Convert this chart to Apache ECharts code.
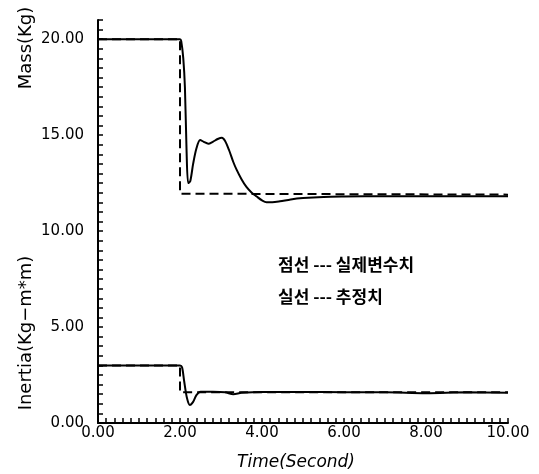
<!DOCTYPE html>
<html><head><meta charset="utf-8">
<script src="https://cdn.jsdelivr.net/npm/echarts@6/dist/echarts.min.js"></script>
<style>html,body{margin:0;padding:0;background:#fff}#c{width:539px;height:474px}</style>
</head><body><div id="c"></div>
<script>
// Mass estimate (solid)
const massEstT = [0,2.0,2.03,2.08,2.12,2.16,2.2,2.25,2.32,2.4,2.49,2.58,2.69,2.8,2.92,3.02,3.1,3.2,3.3,3.38,3.5,3.62,3.75,3.87,4.0,4.11,4.25,4.44,4.7,5.0,5.5,6,7,8,9,10];
const massEstV = [20,20,19.9,19.0,17.5,14.2,12.5,12.6,13.5,14.3,14.75,14.65,14.55,14.65,14.8,14.87,14.7,14.2,13.6,13.2,12.7,12.3,12.0,11.8,11.6,11.5,11.5,11.55,11.65,11.72,11.78,11.8,11.82,11.82,11.82,11.82];
// Mass actual (dashed)
const massActT = [0,2.0,2.0,10];
const massActV = [20,20,11.95,11.9];
// Inertia estimate (solid)
const inerEstT = [0,2.0,2.05,2.1,2.17,2.24,2.32,2.4,2.5,2.8,3.1,3.3,3.5,4.0,5,6,7,8,9,10];
const inerEstV = [3.0,3.0,2.9,2.2,1.3,0.94,1.1,1.45,1.63,1.63,1.6,1.5,1.57,1.62,1.62,1.6,1.6,1.55,1.6,1.58];
// Inertia actual (dashed)
const inerActT = [0,2.0,2.0,10];
const inerActV = [3.0,3.0,1.6,1.6];

const legendLines = ['점선 --- 실제변수치', '실선 --- 추정치'];

const zip = (t, v) => t.map((x, i) => [x, v[i]]);
const near = (v, m) => Math.abs(v / m - Math.round(v / m)) < 1e-6;

const chart = echarts.init(document.getElementById('c'));
const lbl = {color:'#000', fontFamily:'DejaVu Sans', fontSize:15};
chart.setOption({
  animation:false,
  grid:{left:98, right:31, top:20, bottom:51},
  xAxis:{type:'value', min:0, max:10, interval:0.2,
    axisLine:{onZero:false, lineStyle:{color:'#000', width:2}},
    axisTick:{inside:true, length:5, lineStyle:{color:'#000', width:1.5}},
    axisLabel:Object.assign({margin:3, formatter:v => near(v,2) ? v.toFixed(2) : ''}, lbl),
    splitLine:{show:false}},
  yAxis:{type:'value', min:0, max:21, interval:0.5,
    axisLine:{show:true, onZero:false, lineStyle:{color:'#000', width:2}},
    axisTick:{show:true, inside:true, length:5, lineStyle:{color:'#000', width:1.5}},
    axisLabel:Object.assign({margin:14, formatter:v => near(v,5) ? v.toFixed(2) : ''}, lbl),
    splitLine:{show:false}},
  series:[
    {type:'line', data:zip(massActT, massActV), symbol:'none', lineStyle:{color:'#000', width:2, type:[9,5]}},
    {type:'line', data:zip(massEstT, massEstV), symbol:'none', smooth:0.3, lineStyle:{color:'#000', width:2}},
    {type:'line', data:zip(inerActT, inerActV), symbol:'none', lineStyle:{color:'#000', width:2, type:[9,5]}},
    {type:'line', data:zip(inerEstT, inerEstV), symbol:'none', smooth:0.3, lineStyle:{color:'#000', width:2}}
  ],
  graphic:[
    {type:'text', x:26, y:48, rotation:Math.PI/2, style:{text:'Mass(Kg)', font:'18px "DejaVu Sans"', fill:'#000', textAlign:'center', textVerticalAlign:'middle'}},
    {type:'text', x:26, y:333, rotation:Math.PI/2, style:{text:'Inertia(Kg−m*m)', font:'18px "DejaVu Sans"', fill:'#000', textAlign:'center', textVerticalAlign:'middle'}},
    {type:'text', x:296, y:463, style:{text:'Time(Second)', font:'italic 17px "DejaVu Sans"', fill:'#000', textAlign:'center', textVerticalAlign:'middle'}},
    {type:'text', x:278, y:265, style:{text:legendLines[0], font:'bold 17px "Noto Sans CJK KR"', fill:'#000', textVerticalAlign:'middle'}},
    {type:'text', x:278, y:297, style:{text:legendLines[1], font:'bold 17px "Noto Sans CJK KR"', fill:'#000', textVerticalAlign:'middle'}}
  ]
});
</script></body></html>
